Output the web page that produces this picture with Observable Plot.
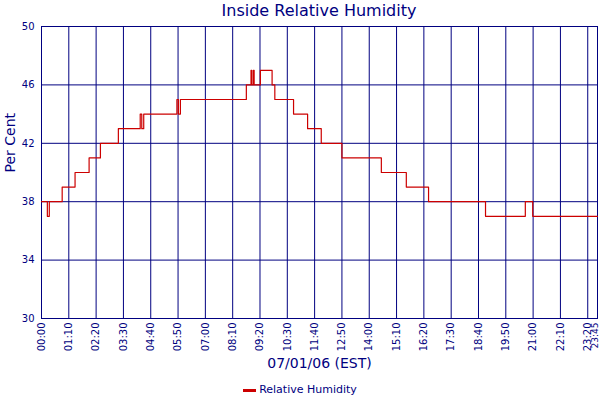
<!DOCTYPE html>
<html>
<head>
<meta charset="utf-8">
<script src="https://cdn.jsdelivr.net/npm/d3@7"></script>
<script src="https://cdn.jsdelivr.net/npm/@observablehq/plot@0.6"></script>
<style>
  html, body { margin: 0; padding: 0; background: #ffffff; }
  #wrap { position: relative; width: 600px; height: 400px; font-family: "DejaVu Sans", Verdana, sans-serif; color: #000080; }
  #title { position: absolute; left: 41px; top: 0; width: 556px; height: 20px; line-height: 22px; text-align: center; font-size: 16px; }
  #chart { position: absolute; left: 0; top: 20px; }
  #legend { position: absolute; left: 0; top: 380px; width: 600px; height: 20px; line-height: 20px; text-align: center; font-size: 11px; }
  #legend .sw { display: inline-block; width: 13px; height: 3px; background: #cc0000; vertical-align: middle; margin-right: 3px; }
</style>
</head>
<body>
<div id="wrap">
  <div id="title">Inside Relative Humidity</div>
  <div id="chart"></div>
  <div id="legend"><span class="sw"></span>Relative Humidity</div>
</div>
<script>
// Change points of the recorded series (time, % relative humidity)
const times = [
  "00:00","00:15","00:20","00:53","01:26","02:02","02:31","03:17",
  "04:13","04:17","04:22",
  "05:47","05:51","05:56",
  "08:45","08:57","08:59","09:03","09:05","09:21","09:51","09:58",
  "10:46","11:22","11:57","12:50","14:31","15:35","16:32",
  "18:58","20:40","20:59","23:45"
];
const humidity = [
  38, 37, 38, 39, 40, 41, 42, 43,
  44, 43, 44,
  45, 44, 45,
  46, 47, 46, 47, 46, 47, 46, 45,
  44, 43, 42, 41, 40, 39, 38,
  37, 38, 37, 37
];
const xTickLabels = ["00:00","01:10","02:20","03:30","04:40","05:50","07:00","08:10","09:20","10:30","11:40","12:50","14:00","15:10","16:20","17:30","18:40","19:50","21:00","22:10","23:20","23:45"];
const yTicks = [30, 34, 38, 42, 46, 50];

const toMin = s => { const [h, m] = s.split(":").map(Number); return h * 60 + m; };
const fmt = m => String(Math.floor(m / 60)).padStart(2, "0") + ":" + String(m % 60).padStart(2, "0");
const data = times.map((t, i) => ({t: toMin(t), v: humidity[i]}));
const xTicks = xTickLabels.map(toMin);
const navy = "#000080";

const chart = Plot.plot({
  width: 600,
  height: 360,
  marginTop: 6,
  marginBottom: 62,
  marginLeft: 41,
  marginRight: 3,
  style: {fontFamily: "DejaVu Sans, Verdana, sans-serif", fontSize: "10px", color: navy, background: "white", overflow: "visible"},
  x: {domain: [0, toMin("23:45")], ticks: xTicks, tickFormat: fmt},
  y: {domain: [30, 50], ticks: yTicks},
  marks: [
    Plot.ruleX(xTicks, {stroke: navy, strokeWidth: 1}),
    Plot.ruleY(yTicks, {stroke: navy, strokeWidth: 1}),
    Plot.frame({stroke: navy, strokeWidth: 1}),
    Plot.axisX({ticks: xTicks.slice(0, -1), tickFormat: fmt, tickRotate: -90, tickSize: 0, tickPadding: 4, label: null, fontSize: 10}),
    Plot.axisX({ticks: xTicks.slice(-1), tickFormat: fmt, tickRotate: -90, tickSize: 0, tickPadding: 4, label: null, fontSize: 9, dx: -2}),
    Plot.axisY({ticks: yTicks, tickSize: 0, tickPadding: 7, label: null, fontSize: 10}),
    Plot.line(data, {x: "t", y: "v", curve: "step-after", stroke: "#cc0000", strokeWidth: 1.2}),
    Plot.text(["Per Cent"], {frameAnchor: "left", dx: -31, rotate: -90, fontSize: 14, fill: navy}),
    Plot.text(["07/01/06 (EST)"], {frameAnchor: "bottom", dy: 49, fontSize: 14, fill: navy})
  ]
});
document.getElementById("chart").appendChild(chart);
</script>
</body>
</html>
